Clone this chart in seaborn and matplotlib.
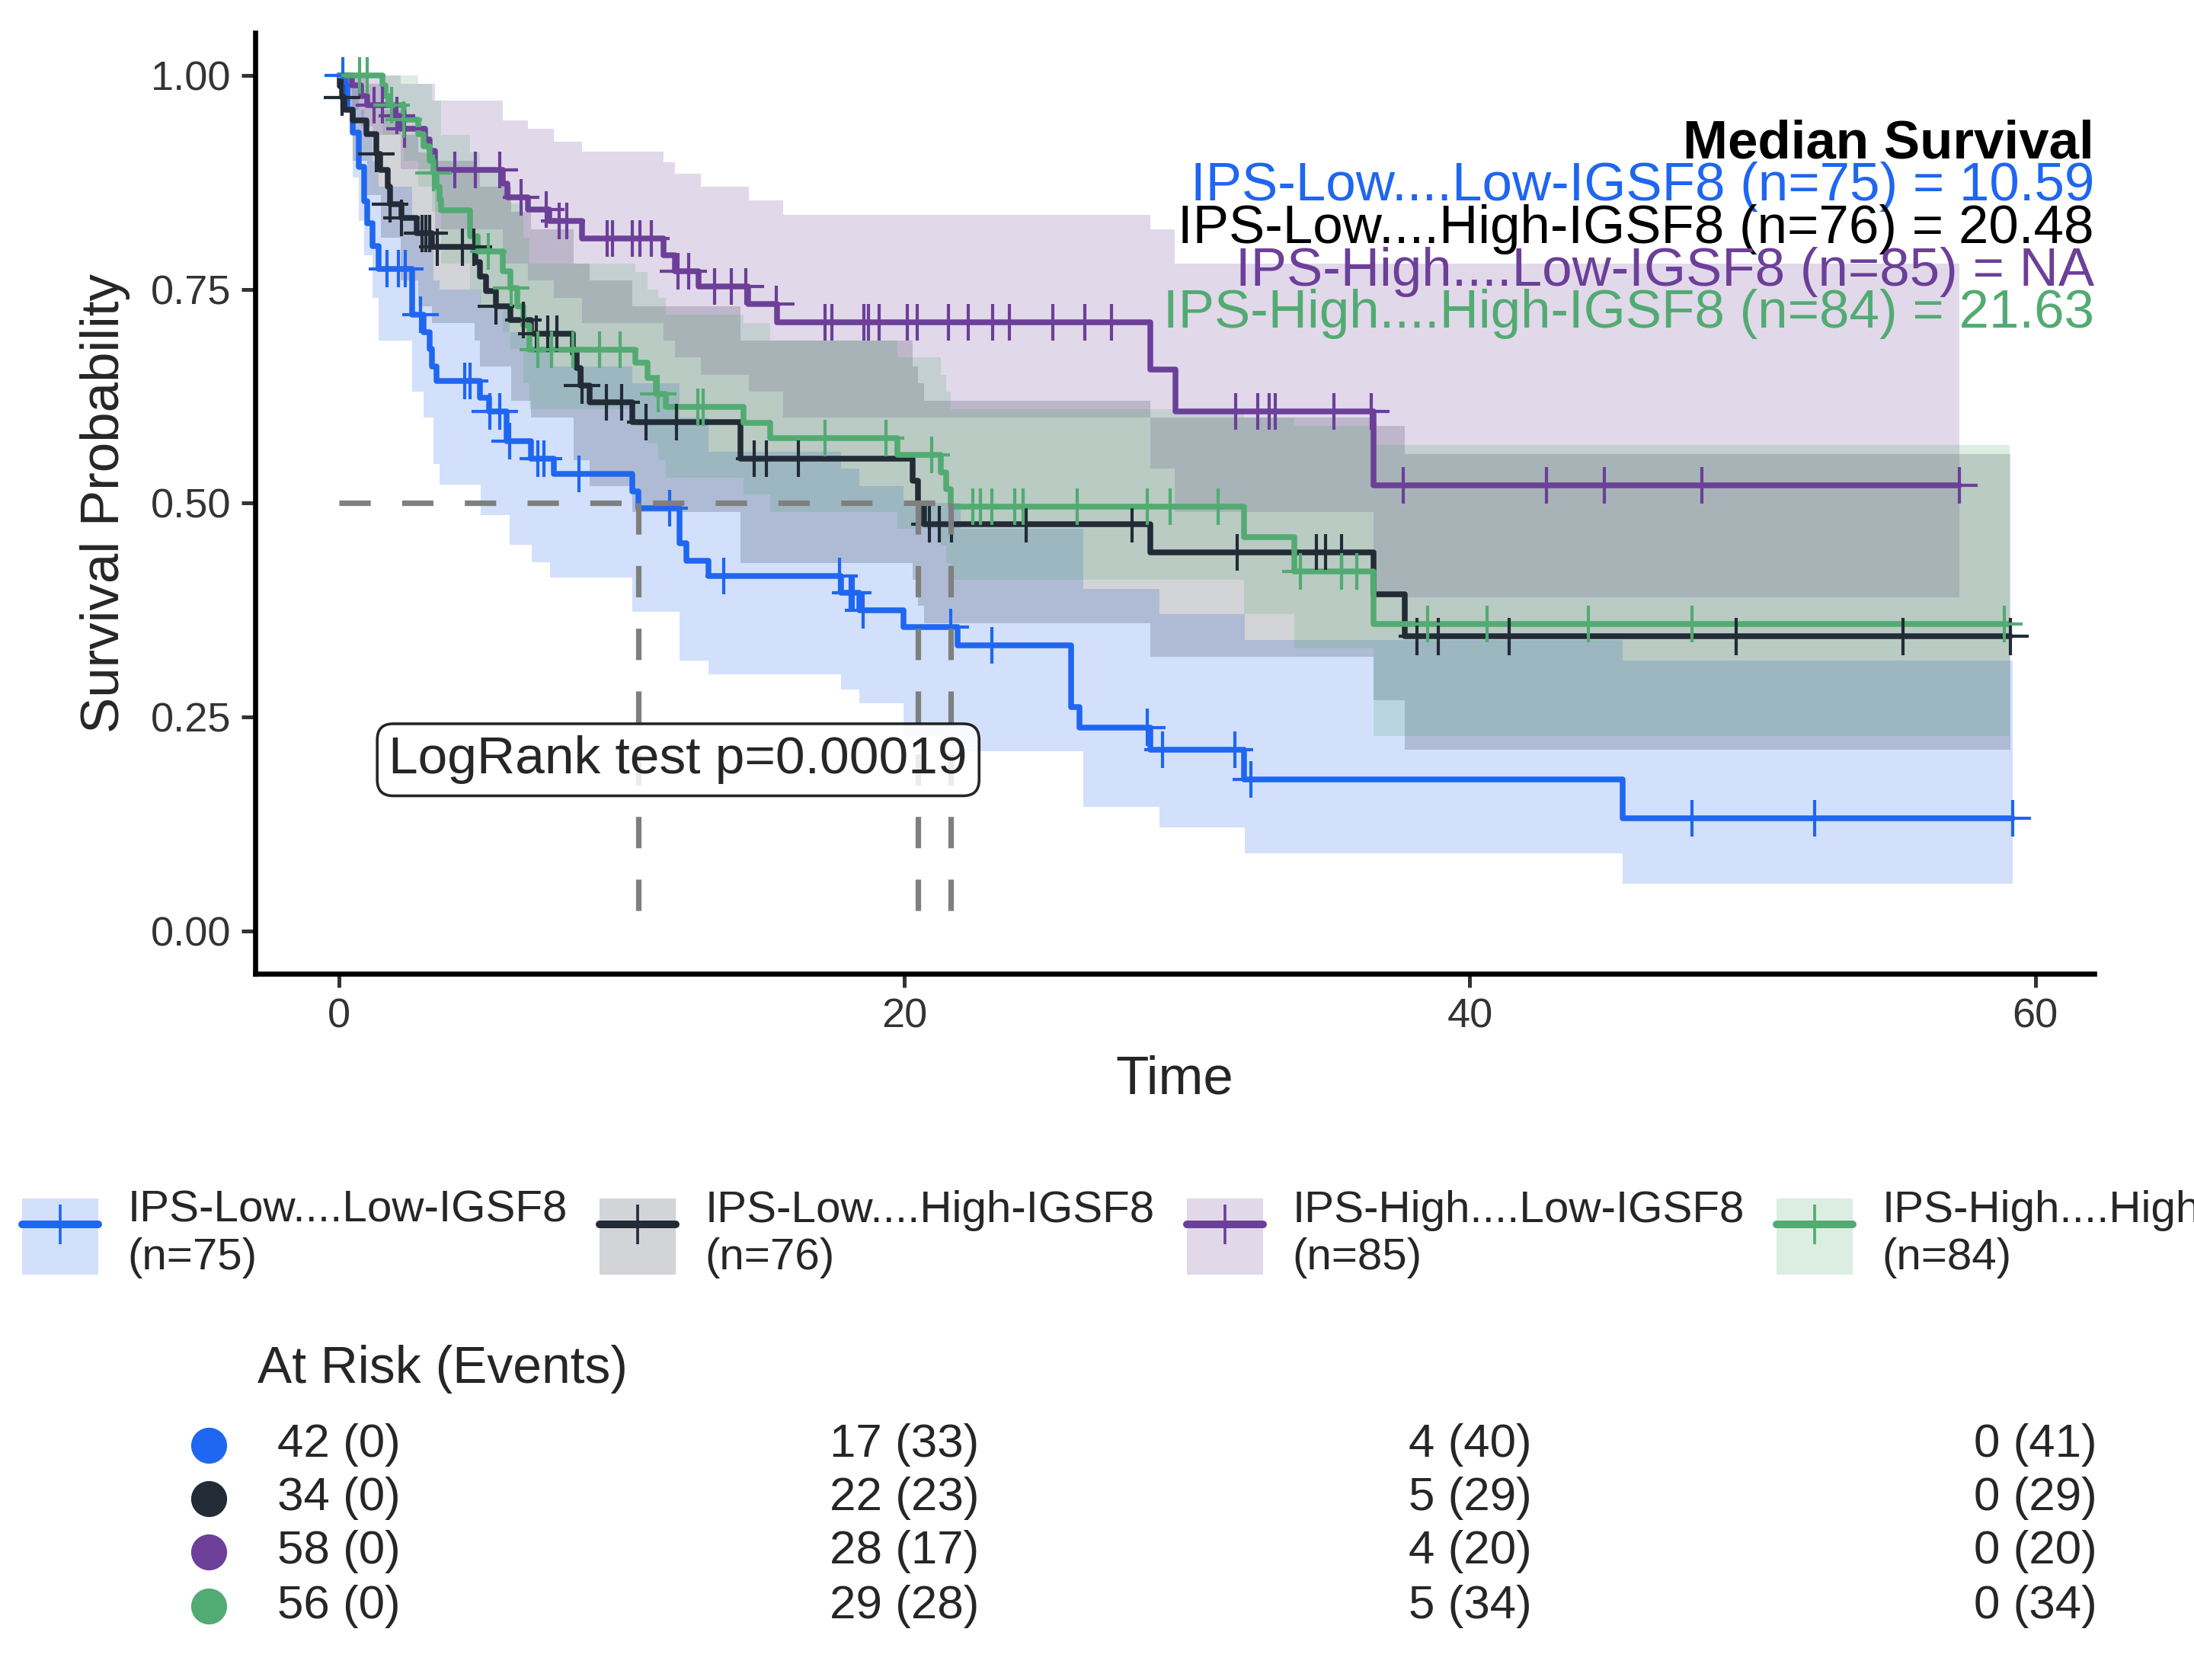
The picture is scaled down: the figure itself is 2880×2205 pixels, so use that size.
#!/usr/bin/env python3

# ========================================================================
#
# Imports
#
# ========================================================================
import numpy as np
import pandas as pd
import matplotlib as mpl
mpl.use('Agg')
import matplotlib.pyplot as plt
from matplotlib.patches import Patch
from matplotlib.lines import Line2D
from matplotlib.transforms import blended_transform_factory
import seaborn as sns


# ========================================================================
#
# Data
#
# ========================================================================
groups = ['IPS-Low....Low-IGSF8', 'IPS-Low....High-IGSF8',
          'IPS-High....Low-IGSF8', 'IPS-High....High-IGSF8']
n_total = [75, 76, 85, 84]
median_txt = ['10.59', '20.48', 'NA', '21.63']
median_x = [10.59, 20.48, 21.63]
pval_txt = 'LogRank test p=0.00019'
colors = ['#1F66F0', '#232B37', '#6C3F98', '#52AB72']

# step times and survival after each step
blue_t = [0.25, 0.3, 0.5, 0.7, 0.9, 1.0, 1.2, 1.4, 2.6, 3.0, 3.2, 3.3, 3.45,
          5.0, 5.3, 5.92, 6.8, 7.6, 10.38, 10.59, 12.06, 12.3, 13.06, 17.75,
          18.42, 19.98, 21.88, 25.9, 26.2, 28.7, 32.0, 45.4]
blue_s = [0.987, 0.96, 0.933, 0.893, 0.853, 0.827, 0.80, 0.774, 0.72, 0.70,
          0.68, 0.66, 0.643, 0.623, 0.607, 0.572, 0.552, 0.534, 0.514, 0.494,
          0.453, 0.433, 0.415, 0.395, 0.375, 0.355, 0.334, 0.262, 0.238,
          0.212, 0.177, 0.132]
blue_cens = [0.15, 1.7, 2.1, 2.35, 2.9, 4.45, 4.65, 5.35, 5.7, 6.03, 7.04,
             7.26, 8.48, 11.7, 13.62, 17.7, 18.08, 18.2, 18.53, 21.65, 23.1,
             28.58, 29.13, 31.7, 32.26, 47.85, 52.2, 59.2]

black_t = [0.03, 0.1, 0.2, 0.5, 0.97, 1.33, 1.46, 1.73, 1.82, 2.22, 2.76,
           3.3, 4.83, 5.0, 5.2, 5.55, 6.08, 6.8, 8.28, 8.4, 8.55, 8.86,
           10.39, 14.2, 20.3, 20.48, 20.7, 28.69, 36.58, 37.69]
black_s = [0.987, 0.974, 0.96, 0.947, 0.931, 0.908, 0.889, 0.870, 0.849,
           0.833, 0.815, 0.799, 0.782, 0.765, 0.748, 0.73, 0.714, 0.698,
           0.675, 0.658, 0.637, 0.618, 0.595, 0.552, 0.526, 0.499, 0.475,
           0.442, 0.393, 0.344]
black_cens = [0.12, 1.33, 1.82, 2.22, 2.94, 3.08, 3.21, 3.48, 4.38, 4.78,
              5.55, 6.53, 6.98, 7.38, 7.7, 8.6, 9.47, 10.0, 10.85, 11.95,
              14.7, 15.13, 16.25, 20.88, 21.23, 21.66, 24.31, 28.04, 31.78,
              34.57, 34.9, 35.46, 38.14, 38.88, 41.38, 49.41, 55.33, 59.12]

purple_t = [0.45, 0.8, 1.0, 2.0, 2.2, 3.05, 3.2, 3.39, 5.81, 5.95, 6.7, 7.45,
            8.6, 11.47, 11.9, 12.72, 14.48, 15.5, 28.69, 29.6, 36.58]
purple_s = [0.988, 0.976, 0.965, 0.953, 0.937, 0.925, 0.912, 0.889, 0.873,
            0.857, 0.843, 0.830, 0.809, 0.790, 0.771, 0.753, 0.733, 0.711,
            0.656, 0.607, 0.521]
purple_cens = [1.24, 1.55, 2.05, 2.32, 4.11, 4.83, 5.68, 6.44, 7.34, 7.79,
               8.06, 9.49, 9.67, 10.39, 10.66, 11.06, 12.0, 12.36, 13.3,
               13.87, 14.4, 15.47, 17.19, 17.45, 18.56, 18.74, 19.11, 20.11,
               20.45, 21.57, 22.25, 23.11, 23.71, 25.26, 26.37, 27.32, 31.73,
               32.49, 32.89, 33.12, 35.19, 36.51, 37.65, 42.72, 44.77, 48.21,
               57.3]

green_t = [1.55, 1.65, 1.75, 2.3, 2.8, 3.0, 3.2, 3.35, 3.45, 3.55, 3.62,
           4.65, 4.92, 5.81, 6.08, 6.3, 6.53, 6.75, 10.48, 10.93, 11.2,
           11.56, 14.3, 15.25, 19.76, 21.3, 21.48, 21.63, 32.0, 33.79, 36.58]
green_s = [0.988, 0.976, 0.965, 0.948, 0.931, 0.917, 0.90, 0.886, 0.87,
           0.855, 0.842, 0.812, 0.794, 0.771, 0.751, 0.73, 0.708, 0.679,
           0.664, 0.646, 0.628, 0.612, 0.594, 0.576, 0.556, 0.536, 0.516,
           0.496, 0.460, 0.420, 0.359]
green_cens = [0.74, 1.0, 1.87, 2.3, 3.35, 5.28, 6.1, 7.03, 7.52, 8.28, 9.22,
              9.94, 11.3, 12.7, 12.88, 17.2, 19.36, 20.97, 22.43, 22.7, 23.1,
              23.9, 24.2, 26.12, 28.6, 29.4, 31.1, 34.0, 35.46, 36.0, 38.5,
              40.6, 44.2, 47.85, 58.9]

end_t = [59.2, 59.12, 57.3, 59.1]

# confidence bands: band step times, lower, upper
blue_bt = [0.25, 0.5, 0.7, 0.9, 1.2, 1.4, 2.6, 3.0, 3.35, 3.57, 5.03, 6.03,
           6.81, 7.48, 10.38, 12.06, 13.06, 17.75, 18.42, 19.98, 22.0, 26.34,
           29.02, 32.03, 45.4]
blue_lo = [0.96, 0.88, 0.83, 0.79, 0.74, 0.69, 0.63, 0.60, 0.546, 0.522,
           0.486, 0.451, 0.431, 0.413, 0.373, 0.316, 0.30, 0.282, 0.266,
           0.228, 0.21, 0.145, 0.121, 0.091, 0.055]
blue_hi = [1.0, 0.99, 0.96, 0.93, 0.90, 0.87, 0.83, 0.81, 0.76, 0.75, 0.73,
           0.70, 0.68, 0.66, 0.64, 0.60, 0.56, 0.54, 0.52, 0.50, 0.47, 0.40,
           0.37, 0.34, 0.316]

black_bt = [0.03, 0.5, 1.0, 1.5, 2.2, 2.8, 3.3, 4.8, 5.0, 6.1, 6.8, 8.3,
            8.86, 10.39, 14.2, 20.3, 20.48, 20.7, 28.69, 36.58, 37.69]
black_lo = [0.96, 0.90, 0.86, 0.81, 0.76, 0.73, 0.71, 0.69, 0.66, 0.62,
            0.60, 0.55, 0.52, 0.49, 0.43, 0.41, 0.38, 0.36, 0.32, 0.27, 0.212]
black_hi = [1.0, 1.0, 0.99, 0.96, 0.93, 0.91, 0.90, 0.89, 0.87, 0.84, 0.82,
            0.78, 0.76, 0.73, 0.69, 0.66, 0.64, 0.62, 0.60, 0.59, 0.557]

purple_bt = [0.45, 0.8, 1.2, 2.2, 3.39, 5.81, 6.7, 7.6, 8.6, 11.47, 11.9,
             12.8, 14.5, 15.7, 28.7, 29.56, 36.58]
purple_lo = [0.96, 0.94, 0.93, 0.89, 0.82, 0.78, 0.76, 0.74, 0.71, 0.69,
             0.67, 0.65, 0.63, 0.60, 0.54, 0.49, 0.39]
purple_hi = [1.0, 1.0, 1.0, 0.99, 0.97, 0.947, 0.937, 0.922, 0.911, 0.898,
             0.885, 0.87, 0.854, 0.837, 0.82, 0.78, 0.78]

green_bt = [1.55, 2.3, 2.8, 3.3, 3.62, 4.65, 5.0, 5.81, 6.08, 6.53, 6.75,
            10.48, 10.93, 11.3, 11.56, 14.3, 15.25, 19.76, 21.3, 21.48,
            21.63, 32.0, 33.79, 36.58]
green_lo = [0.93, 0.90, 0.87, 0.84, 0.78, 0.75, 0.73, 0.70, 0.68, 0.64,
            0.61, 0.59, 0.57, 0.55, 0.53, 0.51, 0.49, 0.47, 0.45, 0.43,
            0.41, 0.37, 0.33, 0.228]
green_hi = [1.0, 1.0, 0.99, 0.97, 0.93, 0.91, 0.89, 0.87, 0.85, 0.81, 0.78,
            0.77, 0.75, 0.74, 0.72, 0.71, 0.69, 0.67, 0.65, 0.63, 0.61,
            0.60, 0.59, 0.568]

# risk table
risk_times = [0, 20, 40, 60]
at_risk = [[42, 17, 4, 0], [34, 22, 5, 0], [58, 28, 4, 0], [56, 29, 5, 0]]
events = [[0, 33, 40, 41], [0, 23, 29, 29], [0, 17, 20, 20], [0, 28, 34, 34]]

steps_t = [blue_t, black_t, purple_t, green_t]
steps_s = [blue_s, black_s, purple_s, green_s]
cens_t = [blue_cens, black_cens, purple_cens, green_cens]
bands = [(blue_bt, blue_lo, blue_hi), (black_bt, black_lo, black_hi),
         (purple_bt, purple_lo, purple_hi), (green_bt, green_lo, green_hi)]


# ========================================================================
#
# Function definitions
#
# ========================================================================
def surv_at(tt, ss, x):
    t = np.r_[0.0, tt]
    s = np.r_[1.0, ss]
    idx = np.searchsorted(t, x, side='right') - 1
    return s[idx]


# ========================================================================
#
# Main
#
# ========================================================================
if __name__ == '__main__':

    sns.set_theme(style='ticks')
    plt.rcParams['font.family'] = ['Liberation Sans', 'DejaVu Sans']

    # ====================================================================
    # Build tables
    curves = []
    cens = []
    for g, tt, ss, ct, te in zip(groups, steps_t, steps_s, cens_t, end_t):
        curves.append(pd.DataFrame({'time': np.r_[0.0, tt, te],
                                    'surv': np.r_[1.0, ss, ss[-1]],
                                    'group': g}))
        cens.append(pd.DataFrame({'time': ct,
                                  'surv': surv_at(tt, ss, np.array(ct)),
                                  'group': g}))
    df = pd.concat(curves, ignore_index=True)
    dfc = pd.concat(cens, ignore_index=True)

    # ====================================================================
    # Plot
    fig = plt.figure(figsize=(14.4, 11.025), dpi=200)
    ax = fig.add_axes([0.1163, 0.4204, 0.8382, 0.5603])

    for (bt, lo, hi), c, te in zip(bands, colors, end_t):
        x = np.r_[0.0, bt, te]
        ax.fill_between(x, np.r_[1.0, lo, lo[-1]], np.r_[1.0, hi, hi[-1]],
                        step='post', color=c, alpha=0.2, lw=0)

    sns.lineplot(data=df, x='time', y='surv', hue='group', hue_order=groups,
                 palette=colors, drawstyle='steps-post', estimator=None,
                 sort=False, lw=2.7, legend=False, ax=ax)
    sns.scatterplot(data=dfc, x='time', y='surv', hue='group',
                    hue_order=groups, palette=colors, marker='+', s=300,
                    linewidth=1.5, legend=False, ax=ax, zorder=3)

    # median lines
    dash = dict(color='#7F7F7F', lw=2.6, dashes=(5.7, 5.7), zorder=4)
    ax.plot([0, max(median_x)], [0.5, 0.5], **dash)
    for m in median_x:
        ax.plot([m, m], [0.5, 0], **dash)

    ax.text(12.0, 0.2, pval_txt, ha='center', va='center', fontsize=25,
            zorder=5,
            bbox=dict(boxstyle='round,pad=0.22,rounding_size=0.3',
                      fc='white', ec='black', lw=1.3, alpha=0.85))

    # median survival block
    ax.text(1.0, 0.8667, 'Median Survival', transform=ax.transAxes,
            ha='right', va='baseline', fontsize=25.5, fontweight='bold',
            color='black', zorder=6)
    ys = [0.8215, 0.7764, 0.7312, 0.686]
    for g, n, m, c, y in zip(groups, n_total, median_txt, colors, ys):
        ax.text(1.0, y, f'{g} (n={n}) = {m}', transform=ax.transAxes,
                ha='right', va='baseline', fontsize=25.5,
                color='black' if c == colors[1] else c, zorder=6)

    ax.set_xlim(-2.96, 62.08)
    ax.set_ylim(-0.05, 1.05)
    ax.set_xticks([0, 20, 40, 60])
    ax.set_yticks([0, 0.25, 0.5, 0.75, 1.0])
    ax.set_yticklabels(['0.00', '0.25', '0.50', '0.75', '1.00'])
    ax.set_xlabel('Time', fontsize=25.5, labelpad=9)
    ax.set_ylabel('Survival Probability', fontsize=25.5, labelpad=9.5)
    ax.tick_params(labelsize=19.5, length=6.5, width=1.8, pad=5,
                   colors='#333333', labelcolor='#333333')
    sns.despine(ax=ax)
    for sp in ['left', 'bottom']:
        ax.spines[sp].set_linewidth(2.4)
        ax.spines[sp].set_color('black')

    # legend
    handles = [(Patch(facecolor=c, alpha=0.2, lw=0),
                Line2D([], [], color=c, lw=3.6, marker='+', markersize=18.5,
                       markeredgewidth=1.3)) for c in colors]
    labels = [f'{g}\n(n={n})' for g, n in zip(groups, n_total)]
    leg = fig.legend(handles, labels, loc='center left',
                     bbox_to_anchor=(0.0099, 0.2653), ncol=4, frameon=False,
                     fontsize=21, handlelength=1.72, handleheight=2.25,
                     handletextpad=0.66, columnspacing=0.72, borderpad=0,
                     borderaxespad=0)

    # risk table
    fig.text(0.1173, 0.1769, 'At Risk (Events)', fontsize=24.4,
             va='baseline', ha='left')
    trans = blended_transform_factory(ax.transData, fig.transFigure)
    row_y = [0.1398, 0.1081, 0.0763, 0.0438]
    for ar, ev, c, y in zip(at_risk, events, colors, row_y):
        fig.add_artist(Line2D([0.0952], [y], marker='o', markersize=16,
                              color=c, ls='none',
                              transform=fig.transFigure))
        for t, a, e in zip(risk_times, ar, ev):
            ax.text(t, y, f'{a} ({e})', transform=trans, ha='center',
                    va='center', fontsize=22.3, clip_on=False)

    plt.savefig('out.png', format='png', dpi=200)
